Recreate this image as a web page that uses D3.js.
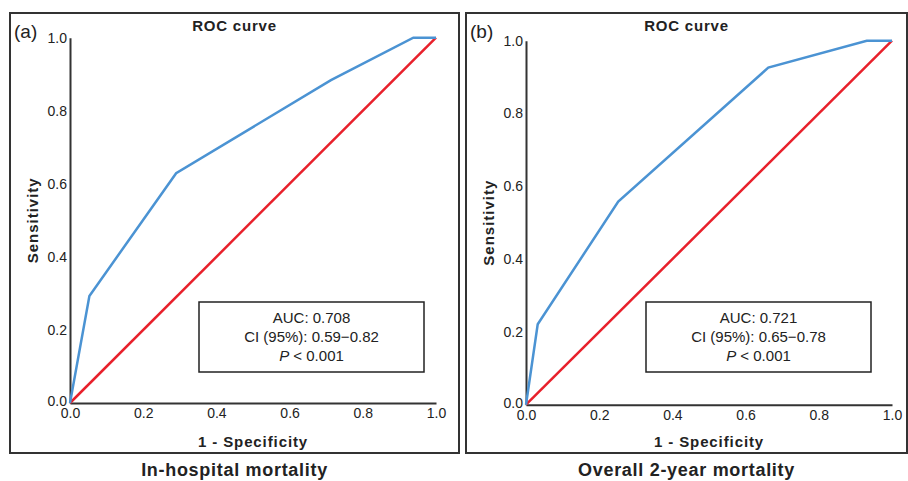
<!DOCTYPE html>
<html>
<head>
<meta charset="utf-8">
<script src="https://cdn.jsdelivr.net/npm/d3@7"></script>
<style>
  body { margin: 0; background: #fff; }
  svg text { font-family: "Liberation Sans", Arial, sans-serif; fill: #222; }
  .bold { font-weight: bold; }
</style>
</head>
<body>
<svg id="chart" width="908" height="481"></svg>
<script>
// ROC curve (a): in-hospital mortality
const fprA = [0, 0.053, 0.29, 0.713, 0.938, 1];
const tprA = [0, 0.293, 0.629, 0.884, 1, 1];
// ROC curve (b): overall 2-year mortality
const fprB = [0, 0.032, 0.252, 0.662, 0.931, 1];
const tprB = [0, 0.221, 0.558, 0.926, 1, 1];
const ticks = [0, 0.2, 0.4, 0.6, 0.8, 1.0];
const statsA = ['AUC: 0.708', 'CI (95%): 0.59\u22120.82', '< 0.001'];
const statsB = ['AUC: 0.721', 'CI (95%): 0.65\u22120.78', '< 0.001'];

const panels = [
  { tag: '(a)', sub: 'In-hospital mortality', fpr: fprA, tpr: tprA, stats: statsA,
    box: [10, 13, 459, 453], plot: [70, 436, 403, 37.7], legend: [199, 302, 225, 70] },
  { tag: '(b)', sub: 'Overall 2-year mortality', fpr: fprB, tpr: tprB, stats: statsB,
    box: [466, 13, 907, 453], plot: [526, 892, 404.7, 40.7], legend: [646, 302, 225, 70] }
];

const svg = d3.select('#chart');

panels.forEach(p => {
  let g = svg.append('g');
  let [bx0, by0, bx1, by1] = p.box;
  g.append('rect')
    .attr('x', bx0).attr('y', by0)
    .attr('width', bx1 - bx0).attr('height', by1 - by0)
    .attr('fill', 'none').attr('stroke', '#333').attr('stroke-width', 2);

  let x = d3.scaleLinear().domain([0, 1]).range([p.plot[0], p.plot[1]]);
  let y = d3.scaleLinear().domain([0, 1]).range([p.plot[2], p.plot[3]]);

  let xAxis = g.append('g')
    .attr('transform', 'translate(0,' + y(0) + ')')
    .call(d3.axisBottom(x).tickValues(ticks).tickFormat(d3.format('.1f')).tickSize(0).tickPadding(5));
  let yAxis = g.append('g')
    .attr('transform', 'translate(' + x(0) + ',0)')
    .call(d3.axisLeft(y).tickValues(ticks).tickFormat(d3.format('.1f')).tickSize(0).tickPadding(3));
  [xAxis, yAxis].forEach(a => {
    a.attr('font-size', 14).attr('font-family', null);
    a.select('.domain').attr('stroke', '#333').attr('stroke-width', 2);
    a.selectAll('.tick text').attr('fill', '#222');
  });
  // keep the corner labels apart
  yAxis.selectAll('.tick text').filter(d => d === 0).attr('dy', '0.2em');

  // reference diagonal
  g.append('line')
    .attr('x1', x(0)).attr('y1', y(0)).attr('x2', x(1)).attr('y2', y(1))
    .attr('stroke', '#e8202b').attr('stroke-width', 2.5);

  let line = d3.line().x(d => x(d[0])).y(d => y(d[1]));
  g.append('path')
    .datum(d3.zip(p.fpr, p.tpr))
    .attr('d', line)
    .attr('fill', 'none')
    .attr('stroke', '#4b93d3')
    .attr('stroke-width', 2.5)
    .attr('stroke-linejoin', 'miter');

  let cx = (bx0 + bx1) / 2;
  g.append('text').attr('class', 'bold')
    .attr('x', cx).attr('y', 31)
    .attr('text-anchor', 'middle').style('font-size', '15px').style('letter-spacing', '0.8px')
    .text('ROC curve');
  g.append('text')
    .attr('x', bx0 + 4).attr('y', 38)
    .style('font-size', '19px')
    .text(p.tag);
  g.append('text').attr('class', 'bold')
    .attr('transform', 'translate(' + (bx0 + 28) + ',' + ((y(0) + y(1)) / 2) + ') rotate(-90)')
    .attr('text-anchor', 'middle').style('font-size', '15px').style('letter-spacing', '1px')
    .text('Sensitivity');
  g.append('text').attr('class', 'bold')
    .attr('x', (x(0) + x(1)) / 2).attr('y', 447)
    .attr('text-anchor', 'middle').style('font-size', '15px').style('letter-spacing', '0.9px')
    .text('1 - Specificity');
  g.append('text').attr('class', 'bold')
    .attr('x', cx).attr('y', 476)
    .attr('text-anchor', 'middle').style('font-size', '18px').style('letter-spacing', '0.7px')
    .text(p.sub);

  // stats box
  let [lx, ly, lw, lh] = p.legend;
  g.append('rect')
    .attr('x', lx).attr('y', ly).attr('width', lw).attr('height', lh)
    .attr('fill', '#fff').attr('stroke', '#222').attr('stroke-width', 1.5);
  let lcx = lx + lw / 2;
  g.append('text').attr('x', lcx).attr('y', ly + 21)
    .attr('text-anchor', 'middle').style('font-size', '15px').text(p.stats[0]);
  g.append('text').attr('x', lcx).attr('y', ly + 40)
    .attr('text-anchor', 'middle').style('font-size', '15px').text(p.stats[1]);
  let t3 = g.append('text').attr('x', lcx).attr('y', ly + 59)
    .attr('text-anchor', 'middle').style('font-size', '15px');
  t3.append('tspan').style('font-style', 'italic').text('P');
  t3.append('tspan').text(' ' + p.stats[2]);
});
</script>
</body>
</html>
